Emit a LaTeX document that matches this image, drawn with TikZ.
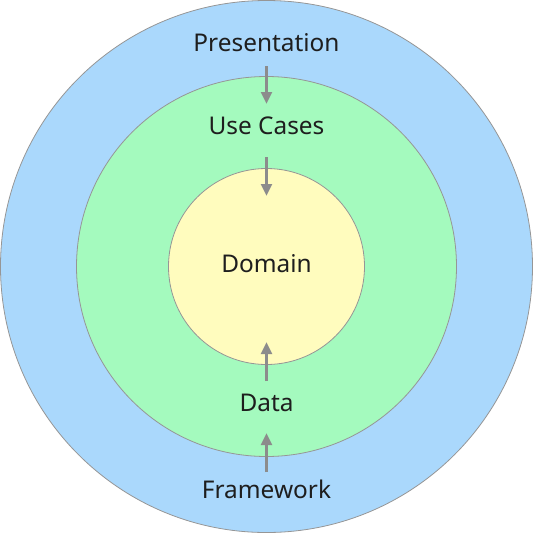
\documentclass[tikz,border=0pt]{standalone}
\usepackage{fontspec}
\setmainfont{Noto Sans}
\usetikzlibrary{arrows.meta}
\definecolor{outerblue}{RGB}{170,216,252}
\definecolor{midgreen}{RGB}{164,250,190}
\definecolor{inneryellow}{RGB}{255,252,190}
\definecolor{ringline}{RGB}{150,150,150}
\definecolor{arrowgray}{RGB}{140,140,140}
\definecolor{labeltext}{RGB}{30,30,30}
\begin{document}
\begin{tikzpicture}[x=0.75pt,y=-0.75pt,
  ring/.style={draw=ringline,line width=0.6pt},
  lbl/.style={text=labeltext,font=\fontsize{18.3}{20}\selectfont,inner sep=0pt},
  dep/.style={draw=arrowgray,line width=2.2pt,-{Triangle[length=9pt,width=8pt]}}]
\useasboundingbox (0,0) rectangle (533,533);
\fill[outerblue,ring] (266.5,266.5) circle (266);
\fill[midgreen,ring] (266.5,266.5) circle (190);
\fill[inneryellow,ring] (266.5,266.5) circle (98);
\node[lbl] (pres) at (266.5,43) {Presentation};
\node[lbl] (uc) at (266.5,126) {Use Cases};
\node[lbl] (dom) at (266.5,264) {Domain};
\node[lbl] (data) at (266.5,403) {Data};
\node[lbl] (fw) at (266.5,489) {Framework};
\coordinate (a1s) at (266.5,66);
\coordinate (a1e) at (266.5,104);
\coordinate (a2s) at (266.5,157);
\coordinate (a2e) at (266.5,196);
\coordinate (a3s) at (266.5,381);
\coordinate (a3e) at (266.5,342);
\coordinate (a4s) at (266.5,472);
\coordinate (a4e) at (266.5,433);
\draw[dep] (a1s) -- (a1e);
\draw[dep] (a2s) -- (a2e);
\draw[dep] (a3s) -- (a3e);
\draw[dep] (a4s) -- (a4e);
\end{tikzpicture}
\end{document}
